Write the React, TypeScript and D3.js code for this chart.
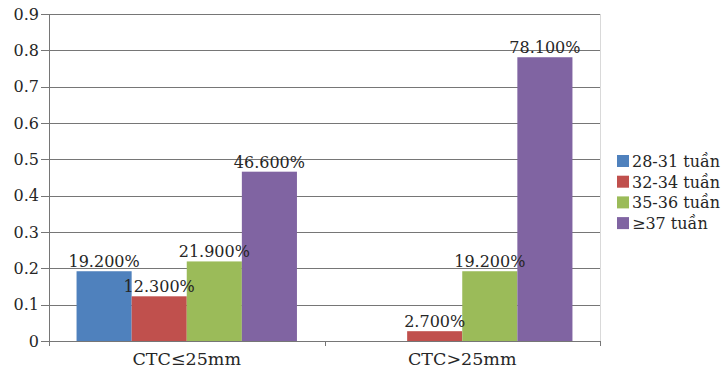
import React from "react";
import * as d3 from "d3";

// Group categories along the x axis
const categories = ["CTC≤25mm", "CTC>25mm"];
// Gestational-age series shown in the legend
const series = ["28-31 tuần", "32-34 tuần", "35-36 tuần", "≥37 tuần"];
// Proportions per series, one value per category
const values28_31 = [0.192, 0];
const values32_34 = [0.123, 0.027];
const values35_36 = [0.219, 0.192];
const values37 = [0.466, 0.781];
const seriesValues = [values28_31, values32_34, values35_36, values37];
// Data-label text per series, one per category (null = no label)
const labels28_31 = ["19.200%", null];
const labels32_34 = ["12.300%", "2.700%"];
const labels35_36 = ["21.900%", "19.200%"];
const labels37 = ["46.600%", "78.100%"];
const seriesLabels = [labels28_31, labels32_34, labels35_36, labels37];
const yTicks = [0, 0.1, 0.2, 0.3, 0.4, 0.5, 0.6, 0.7, 0.8, 0.9];
const colors = ["#4F81BD", "#C0504D", "#9BBB59", "#8064A2"];

const W = 724;
const H = 375;
const left = 49;
const right = 600;
const top = 14;
const bottom = 341;
const FONT = "'DejaVu Serif', serif";
const TEXT = "#262626";
const GRID = "#767676";

export default function App() {
  const y = d3.scaleLinear().domain([0, 0.9]).range([bottom, top]);
  const x0 = d3.scaleBand<string>().domain(categories).range([left, right]).padding(0);
  const x1 = d3
    .scaleBand<string>()
    .domain(series)
    .range([0, x0.bandwidth()])
    .paddingInner(0)
    .paddingOuter(0.5);

  return (
    <svg
      width={W}
      height={H}
      style={{ position: "absolute", left: 0, top: 0, background: "#fff" }}
      fontFamily={FONT}
    >
      {/* gridlines and y tick marks */}
      {yTicks.map((t) => (
        <g key={t}>
          <line
            x1={left - 8}
            x2={right}
            y1={Math.round(y(t)) + 0.5}
            y2={Math.round(y(t)) + 0.5}
            stroke={GRID}
            strokeWidth={1}
          />
          <text
            x={39}
            y={y(t)}
            dy="0.36em"
            textAnchor="end"
            fontSize={16}
            fill={TEXT}
          >
            {t === 0 ? "0" : d3.format(".1f")(t)}
          </text>
        </g>
      ))}
      {/* plot right border */}
      <line x1={right + 0.5} x2={right + 0.5} y1={top} y2={bottom} stroke="#d9d9d9" />
      {/* bars */}
      {categories.map((c, ci) =>
        series.map((s, si) => {
          const v = seriesValues[si][ci];
          const bx = (x0(c) ?? 0) + (x1(s) ?? 0);
          return (
            <rect
              key={c + s}
              x={bx}
              y={y(v)}
              width={x1.bandwidth()}
              height={bottom - y(v)}
              fill={colors[si]}
            />
          );
        })
      )}
      {/* y axis line */}
      <line x1={left + 0.5} x2={left + 0.5} y1={top} y2={bottom + 5} stroke={GRID} />
      {/* x axis line and category ticks */}
      <line x1={left - 8} x2={right} y1={bottom + 0.5} y2={bottom + 0.5} stroke={GRID} />
      {[...categories.map((c) => x0(c) ?? 0), right].map((px, i) => (
        <line
          key={i}
          x1={Math.round(px) + 0.5}
          x2={Math.round(px) + 0.5}
          y1={bottom}
          y2={bottom + 5}
          stroke={GRID}
        />
      ))}
      {/* data labels */}
      {categories.map((c, ci) =>
        series.map((s, si) => {
          const lab = seriesLabels[si][ci];
          if (!lab) return null;
          const v = seriesValues[si][ci];
          const cx = (x0(c) ?? 0) + (x1(s) ?? 0) + x1.bandwidth() / 2;
          return (
            <text
              key={"l" + c + s}
              x={cx}
              y={y(v) - 4}
              textAnchor="middle"
              fontSize={16}
              fill={TEXT}
            >
              {lab}
            </text>
          );
        })
      )}
      {/* category labels */}
      {categories.map((c) => (
        <text
          key={"c" + c}
          x={(x0(c) ?? 0) + x0.bandwidth() / 2}
          y={365}
          textAnchor="middle"
          fontSize={17.5}
          fill={TEXT}
        >
          {c}
        </text>
      ))}
      {/* legend */}
      {series.map((s, i) => (
        <g key={"lg" + s} transform={`translate(617, ${155 + i * 20.7})`}>
          <rect x={0} y={0} width={12} height={12} fill={colors[i]} />
          <text x={15} y={12} fontSize={16} fill={TEXT}>
            {s}
          </text>
        </g>
      ))}
    </svg>
  );
}
